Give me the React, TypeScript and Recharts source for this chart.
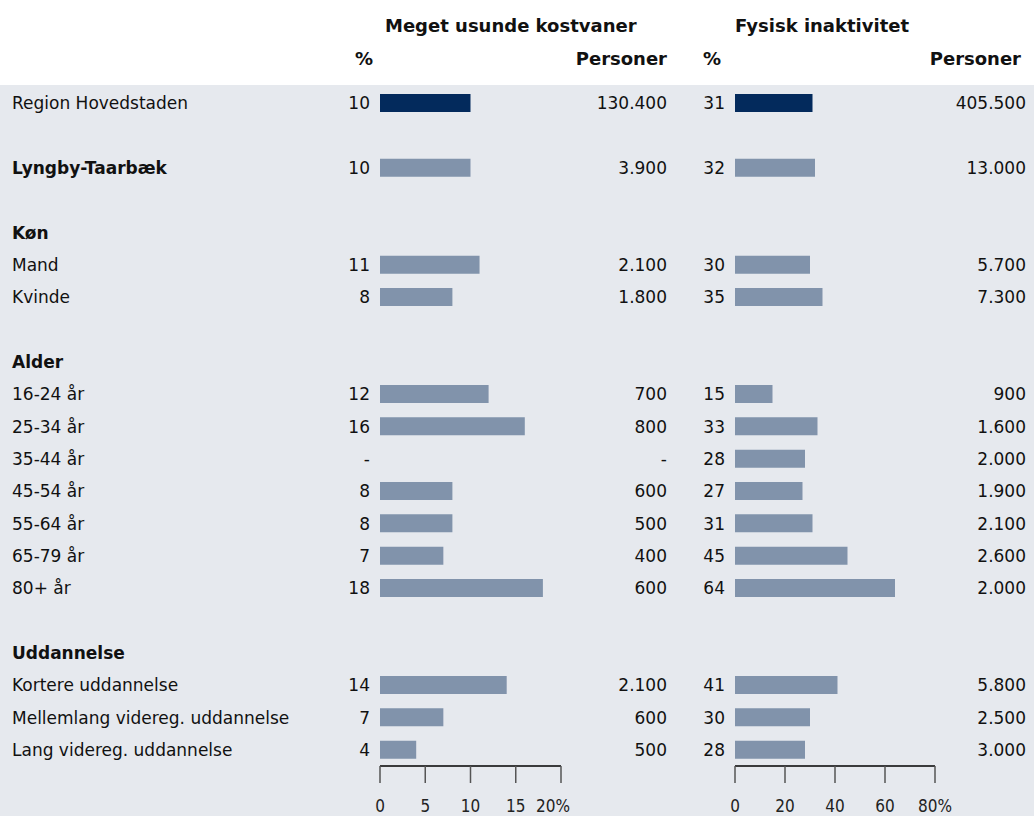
import { Bar, BarChart, Cell, XAxis, YAxis } from "recharts";

const rowLabels = [
  "Region Hovedstaden", "", "Lyngby-Taarbæk", "", "Køn", "Mand", "Kvinde", "",
  "Alder", "16-24 år", "25-34 år", "35-44 år", "45-54 år", "55-64 år", "65-79 år", "80+ år", "",
  "Uddannelse", "Kortere uddannelse", "Mellemlang videreg. uddannelse", "Lang videreg. uddannelse",
];
const rowKinds = [
  "total", "gap", "bold", "gap", "head", "item", "item", "gap",
  "head", "item", "item", "item", "item", "item", "item", "item", "gap",
  "head", "item", "item", "item",
];
const kostPct = [10, null, 10, null, null, 11, 8, null, null, 12, 16, null, 8, 8, 7, 18, null, null, 14, 7, 4];
const kostPersoner = [130400, null, 3900, null, null, 2100, 1800, null, null, 700, 800, null, 600, 500, 400, 600, null, null, 2100, 600, 500];
const fysPct = [31, null, 32, null, null, 30, 35, null, null, 15, 33, 28, 27, 31, 45, 64, null, null, 41, 30, 28];
const fysPersoner = [405500, null, 13000, null, null, 5700, 7300, null, null, 900, 1600, 2000, 1900, 2100, 2600, 2000, null, null, 5800, 2500, 3000];
const kostTicks = [0, 5, 10, 15, 20];
const fysTicks = [0, 20, 40, 60, 80];

const rows = rowLabels.map((label, i) => ({
  id: "r" + i,
  label,
  kind: rowKinds[i],
  kost: kostPct[i],
  kostN: kostPersoner[i],
  fys: fysPct[i],
  fysN: fysPersoner[i],
}));

const FONT = "'DejaVu Sans', sans-serif";
const NAVY = "#032a5c";
const STEEL = "#8193ab";
const BG = "#e6e9ee";

const fmtNum = (v: number) => String(v).replace(/\B(?=(\d{3})+(?!\d))/g, ".");

const cellText = (kind: string, v: number | null, f: (n: number) => string) => {
  if (kind === "gap" || kind === "head") return "";
  return v == null ? "-" : f(v);
};

const findRow = (id: string) => rows.find((r) => r.id === id);

const KostTick = (props: any) => {
  const { y, payload } = props;
  const r = findRow(payload.value);
  if (!r) return null;
  const bold = r.kind === "bold" || r.kind === "head";
  return (
    <g fontFamily={FONT} fontSize={17} fill="#111">
      <text x={12} y={y} dy="0.36em" textAnchor="start" fontWeight={bold ? "bold" : "normal"}>
        {r.label}
      </text>
      <text x={370} y={y} dy="0.36em" textAnchor="end">
        {cellText(r.kind, r.kost, String)}
      </text>
      <text x={667} y={y} dy="0.36em" textAnchor="end">
        {cellText(r.kind, r.kostN, fmtNum)}
      </text>
    </g>
  );
};

const FysTick = (props: any) => {
  const { y, payload } = props;
  const r = findRow(payload.value);
  if (!r) return null;
  return (
    <g fontFamily={FONT} fontSize={17} fill="#111">
      <text x={725} y={y} dy="0.36em" textAnchor="end">
        {cellText(r.kind, r.fys, String)}
      </text>
      <text x={1026} y={y} dy="0.36em" textAnchor="end">
        {cellText(r.kind, r.fysN, fmtNum)}
      </text>
    </g>
  );
};

// x-axis tick label; the last label on the left panel sits a little left of its tick
const makeXTick = (max: number, lastShift: number) => (props: any) => {
  const { x, y, payload } = props;
  const v = payload.value;
  const isLast = v === max;
  return (
    <text
      x={x + (isLast ? lastShift : 0)}
      y={y}
      dy="0.71em"
      textAnchor="middle"
      fontFamily={FONT}
      fontSize={17}
      fill="#222"
      style={{ fontStretch: "condensed" }}
    >
      {isLast ? v + "%" : String(v)}
    </text>
  );
};

const Panel = ({ dataKey, max, ticks, yWidth, right, tick, lastShift }: any) => (
  <BarChart
    width={1034}
    height={816}
    data={rows}
    layout="vertical"
    margin={{ top: 87, right, bottom: 0, left: 0 }}
    barCategoryGap={0}
  >
    <YAxis
      type="category"
      dataKey="id"
      width={yWidth}
      axisLine={false}
      tickLine={false}
      interval={0}
      tick={tick}
    />
    <XAxis
      type="number"
      domain={[0, max]}
      ticks={ticks}
      height={50}
      tickSize={17}
      tickMargin={17}
      axisLine={{ stroke: "#000", strokeWidth: 1.5 }}
      tickLine={{ stroke: "#555", strokeWidth: 1.5 }}
      tick={makeXTick(max, lastShift)}
    />
    <Bar dataKey={dataKey} barSize={18} isAnimationActive={false}>
      {rows.map((r) => (
        <Cell key={r.id} fill={r.kind === "total" ? NAVY : STEEL} />
      ))}
    </Bar>
  </BarChart>
);

export default function App() {
  return (
    <div style={{ position: "absolute", top: 0, left: 0, width: 1034, height: 816, overflow: "hidden", background: "#fff" }}>
      <svg width={1034} height={816} style={{ position: "absolute", top: 0, left: 0 }}>
        <rect x={0} y={85} width={1034} height={731} fill={BG} />
        <g fontFamily={FONT} fontSize={18} fontWeight="bold" fill="#111">
          <text x={385} y={32}>Meget usunde kostvaner</text>
          <text x={735} y={32}>Fysisk inaktivitet</text>
          <text x={355} y={65}>%</text>
          <text x={667} y={65} textAnchor="end">Personer</text>
          <text x={703} y={65}>%</text>
          <text x={1021} y={65} textAnchor="end">Personer</text>
        </g>
      </svg>
      <div style={{ position: "absolute", top: 0, left: 0 }}>
        <Panel dataKey="kost" max={20} ticks={kostTicks} yWidth={380} right={473} tick={<KostTick />} lastShift={-8} />
      </div>
      <div style={{ position: "absolute", top: 0, left: 0 }}>
        <Panel dataKey="fys" max={80} ticks={fysTicks} yWidth={735} right={99} tick={<FysTick />} lastShift={0} />
      </div>
    </div>
  );
}
